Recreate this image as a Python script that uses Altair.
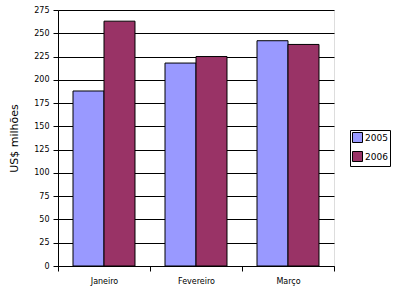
import altair as alt
import pandas as pd

months = ["Janeiro", "Fevereiro", "Março"]
years = ["2005", "2006"]
v2005 = [188, 218, 242]
v2006 = [263, 225, 238]

rows = []
for m, a, b in zip(months, v2005, v2006):
    rows.append({"mes": m, "ano": "2005", "valor": a})
    rows.append({"mes": m, "ano": "2006", "valor": b})
df = pd.DataFrame(rows)

font = "DejaVu Sans"

chart = alt.Chart(df).mark_bar(stroke="black", strokeWidth=1).encode(
    x=alt.X("mes:N", sort=months, title=None,
            scale=alt.Scale(paddingInner=0, paddingOuter=0),
            axis=alt.Axis(labelAngle=0, tickBand="extent", labelPadding=6,
                          labelFontSize=8, labelFont=font, labelColor="black",
                          domainColor="black", tickColor="black", tickSize=5,
                          grid=False)),
    xOffset=alt.XOffset("ano:N", sort=years,
                        scale=alt.Scale(paddingInner=0, paddingOuter=0.484)),
    y=alt.Y("valor:Q", title="US$ milhões",
            scale=alt.Scale(domain=[0, 275], nice=False),
            axis=alt.Axis(values=list(range(0, 276, 25)), labelFontSize=8,
                          labelFont=font, labelColor="black", tickSize=5,
                          tickColor="black", domainColor="black",
                          gridColor="black", gridOpacity=1, titleFontSize=11,
                          titleFont=font, titleFontWeight="normal",
                          titleColor="black", titlePadding=14, labelPadding=4)),
    color=alt.Color("ano:N", sort=years, title=None,
                    scale=alt.Scale(domain=years, range=["#9999FF", "#993366"]),
                    legend=alt.Legend(orient="none", legendX=292, legendY=120,
                                      symbolType="square", symbolSize=100,
                                      symbolStrokeColor="black", symbolStrokeWidth=1,
                                      labelFontSize=9, labelFont=font, labelColor="black",
                                      strokeColor="black", fillColor="white",
                                      padding=2, rowPadding=4, labelOffset=2)),
).properties(
    width=276, height=256,
    autosize=alt.AutoSizeParams(type="none"),
    padding={"left": 58, "top": 10, "right": 59, "bottom": 21},
).configure_view(stroke=None).configure(background="white")

chart.save("out.html", embed_options={"renderer": "svg", "actions": False})
